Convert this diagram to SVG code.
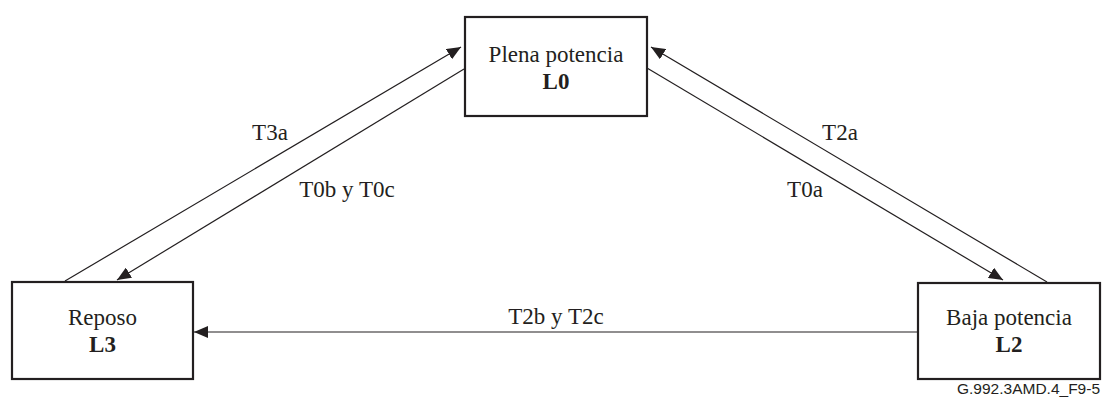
<svg xmlns="http://www.w3.org/2000/svg" width="1102" height="399" viewBox="0 0 1102 399">
  <style>
    .box { fill: #fff; stroke: #231f20; stroke-width: 2.2; }
    .lbl { font-family: "Liberation Serif", "Times New Roman", serif; font-size: 23px; fill: #231f20; text-anchor: middle; }
    .b { font-weight: bold; }
    .edge { stroke: #231f20; stroke-width: 1.2; fill: none; marker-end: url(#arrow); }
    .ref { font-family: "Liberation Sans", Arial, sans-serif; font-size: 14px; fill: #231f20; text-anchor: end; }
  </style>
  <defs>
    <marker id="arrow" markerUnits="userSpaceOnUse" markerWidth="14" markerHeight="12" viewBox="0 0 14 12" refX="14" refY="6" orient="auto">
      <path d="M0,0 L14,6 L0,12 Z" fill="#231f20"/>
    </marker>
  </defs>
  <rect width="1102" height="399" fill="#fff"/>

  <g id="connectors">
    <line class="edge" x1="65" y1="281" x2="461" y2="47"/>
    <line class="edge" x1="464" y1="69" x2="117" y2="280"/>
    <line class="edge" x1="1047" y1="282" x2="651" y2="47"/>
    <line class="edge" x1="647" y1="68" x2="1003" y2="280"/>
    <line class="edge" x1="918" y1="332" x2="194" y2="332"/>
    <text class="lbl" x="270" y="140">T3a</text>
    <text class="lbl" x="347" y="197">T0b y T0c</text>
    <text class="lbl" x="840" y="140">T2a</text>
    <text class="lbl" x="805" y="197">T0a</text>
    <text class="lbl" x="556" y="324">T2b y T2c</text>
  </g>

  <g id="L0">
    <rect class="box" x="465" y="17" width="182" height="99"/>
    <text class="lbl" x="556" y="62">Plena potencia</text>
    <text class="lbl b" x="556" y="89">L0</text>
  </g>

  <g id="L3">
    <rect class="box" x="12" y="282" width="181" height="97"/>
    <text class="lbl" x="102.5" y="325">Reposo</text>
    <text class="lbl b" x="102.5" y="352">L3</text>
  </g>

  <g id="L2">
    <rect class="box" x="918" y="283" width="182" height="96"/>
    <text class="lbl" x="1009" y="325">Baja potencia</text>
    <text class="lbl b" x="1009" y="352">L2</text>
  </g>

  <text class="ref" x="1100" y="394" textLength="143" lengthAdjust="spacingAndGlyphs">G.992.3AMD.4_F9-5</text>
</svg>
